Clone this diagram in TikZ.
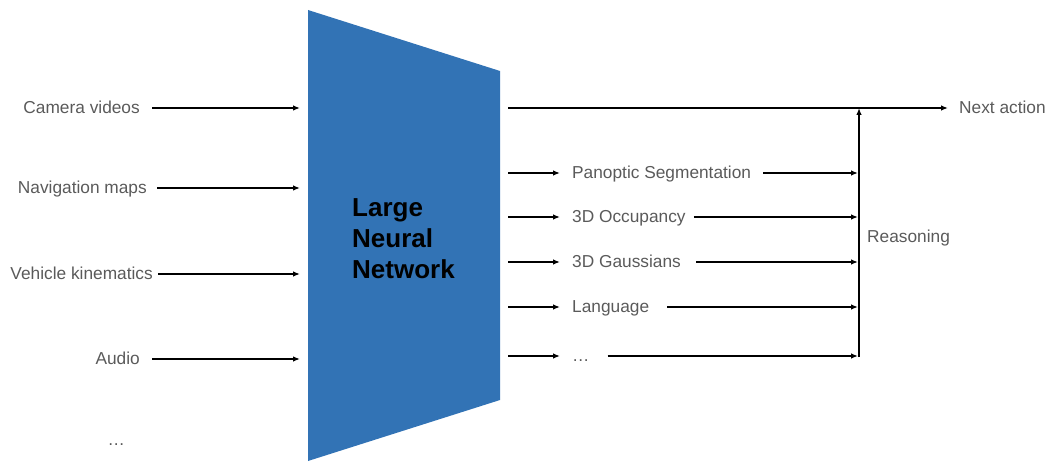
\documentclass[tikz,border=0pt]{standalone}
\usepackage{fontspec}
\setmainfont{Liberation Sans}
\usetikzlibrary{arrows.meta,calc}
\definecolor{nnblue}{RGB}{50,115,181}
\definecolor{lblgray}{RGB}{90,90,90}
\begin{document}
\begin{tikzpicture}[x=1pt,y=-1pt,
  lbl/.style={font=\fontsize{17.3}{20}\selectfont, text=lblgray, inner sep=0pt},
  arr/.style={line width=1.3pt, -{Latex[length=7pt,width=5.5pt]}}]
\useasboundingbox (0,0) rectangle (1062,462);

% the network body
\fill[nnblue] (308,10) -- (500,71) -- (500,400) -- (308,461) -- cycle;
\node[font=\fontsize{26}{31}\selectfont\bfseries, align=left, anchor=north west, inner sep=0pt]
  (nn) at (352,198) {Large\\Neural\\Network};
\coordinate (nnL) at (300,0);
\coordinate (nnR) at (508,0);
\coordinate (bus) at (858,0);

% inputs (labels sit on their baselines, arrows run 5.5pt above)
\node[lbl, anchor=base east] (cam) at (140,113.5) {Camera videos};
\node[lbl, anchor=base east] (nav) at (147,193.5) {Navigation maps};
\node[lbl, anchor=base east] (veh) at (153,279.5) {Vehicle kinematics};
\node[lbl, anchor=base east] (aud) at (140,364.5) {Audio};
\node[lbl, anchor=base east] (inmore) at (125,445.5) {…};

\draw[arr] ($(cam.base east)+(12,-5.5)$) -- ($(cam.base east -| nnL)+(0,-5.5)$);
\draw[arr] ($(nav.base east)+(10,-5.5)$) -- ($(nav.base east -| nnL)+(0,-5.5)$);
\draw[arr] ($(veh.base east)+(5,-5.5)$) -- ($(veh.base east -| nnL)+(0,-5.5)$);
\draw[arr] ($(aud.base east)+(12,-5.5)$) -- ($(aud.base east -| nnL)+(0,-5.5)$);

% intermediate outputs
\node[lbl, anchor=base west] (seg) at (572,178.5) {Panoptic Segmentation};
\node[lbl, anchor=base west] (occ) at (572,222.5) {3D Occupancy};
\node[lbl, anchor=base west] (gau) at (572,267.5) {3D Gaussians};
\node[lbl, anchor=base west] (lang) at (572,312.5) {Language};
\node[lbl, anchor=base west] (omore) at (572,361.5) {…};

\foreach \n in {seg,occ,gau,lang,omore}
  \draw[arr] ($(\n.base west -| nnR)+(0,-5.5)$) -- ($(\n.base west)+(-12,-5.5)$);

\draw[arr] ($(seg.base east)+(12,-5.5)$) -- ($(seg.base east -| bus)+(0,-5.5)$);
\draw[arr] ($(occ.base east)+(8,-5.5)$) -- ($(occ.base east -| bus)+(0,-5.5)$);
\draw[arr] ($(gau.base east)+(15,-5.5)$) -- ($(gau.base east -| bus)+(0,-5.5)$);
\draw[arr] ($(lang.base east)+(18,-5.5)$) -- ($(lang.base east -| bus)+(0,-5.5)$);
\draw[arr] ($(omore.base east)+(18,-5.5)$) -- ($(omore.base east -| bus)+(0,-5.5)$);

% final action and reasoning path
\node[lbl, anchor=base west] (next) at (959,113.5) {Next action};
\node[lbl, anchor=base west] (reason) at (867,242.5) {Reasoning};
\coordinate (busbot) at (859,357);
\draw[arr] ($(nnR |- next.base west)+(0,-5.5)$) -- ($(next.base west)+(-11,-5.5)$);
\draw[arr] (busbot) -- ($(busbot |- next.base west)+(0,-5.5)$);
\end{tikzpicture}
\end{document}
